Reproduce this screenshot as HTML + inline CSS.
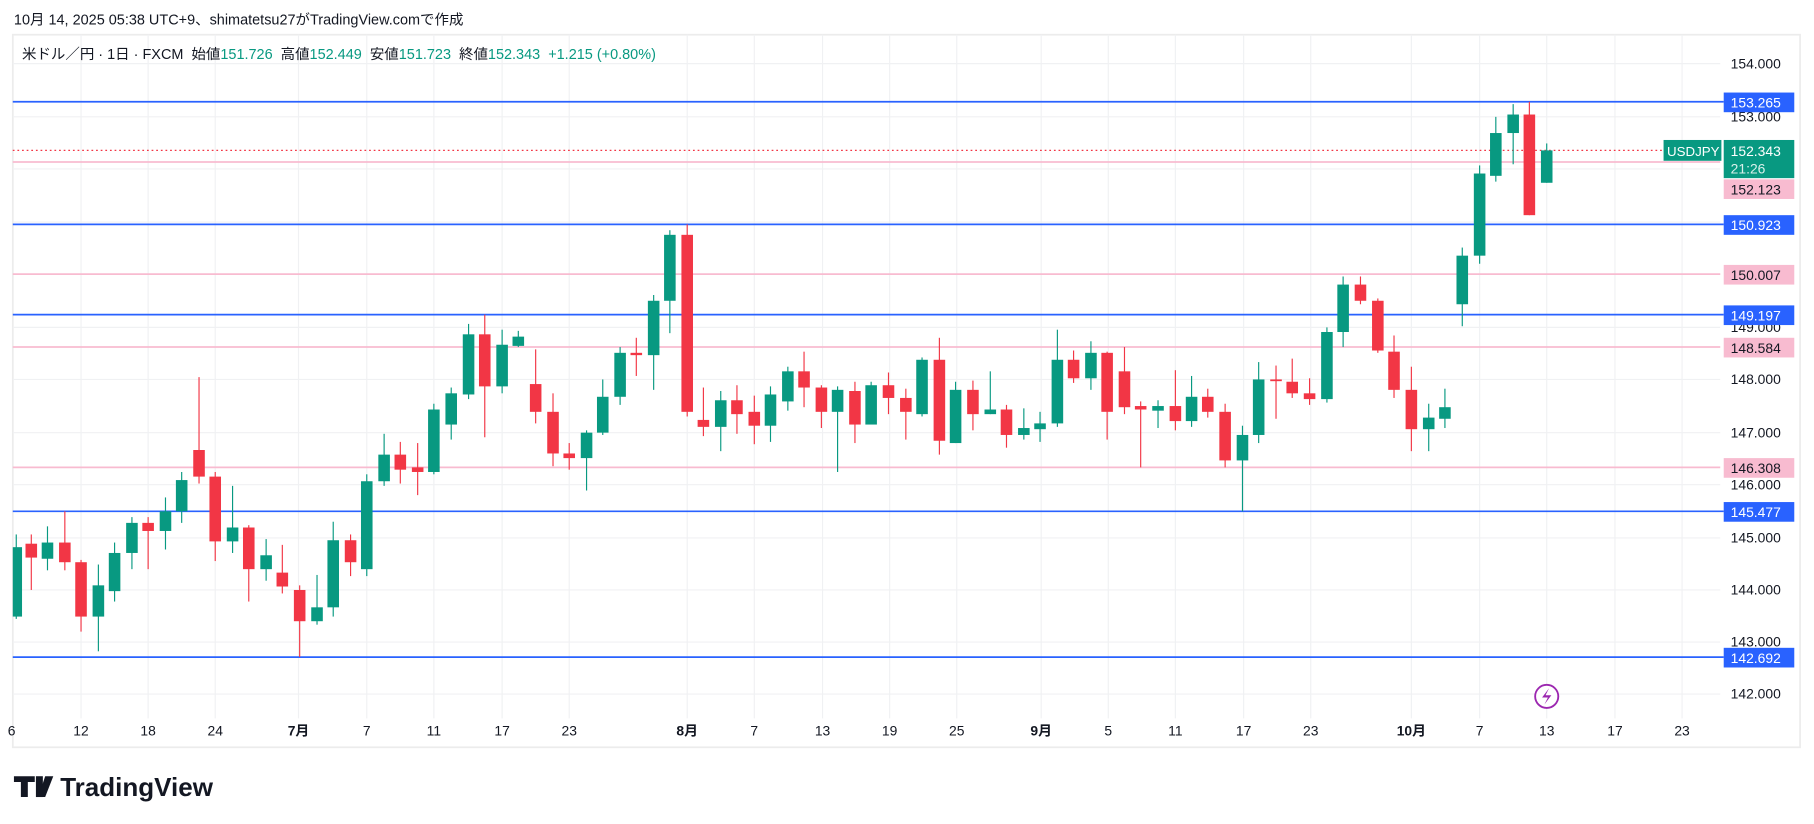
<!DOCTYPE html>
<html><head><meta charset="utf-8"><style>
html,body{margin:0;padding:0;background:#fff;width:1814px;height:824px;overflow:hidden}
svg{display:block}
text{font-family:"Liberation Sans","Noto Sans CJK JP",sans-serif}
</style></head><body>
<svg id="s" width="1814" height="824" viewBox="0 0 1568 712.3" xmlns="http://www.w3.org/2000/svg">
<rect x="0" y="0" width="1568" height="712.3" fill="#fff"/>
<text x="12" y="21" font-size="12.5" fill="#131722">10月 14, 2025 05:38 UTC+9、shimatetsu27がTradingView.comで作成</text>
<rect x="11" y="30" width="1545" height="616" fill="none" stroke="#ececec" stroke-width="1.5"/>
<g id="grid"></g>
<g id="hl"></g>
<g id="candles"></g>
<text x="19" y="51" font-size="12.5" fill="#131722">米ドル／円 · 1日 · FXCM &#160;始値<tspan fill="#089981">151.726</tspan> &#160;高値<tspan fill="#089981">152.449</tspan> &#160;安値<tspan fill="#089981">151.723</tspan> &#160;終値<tspan fill="#089981">152.343 &#160;+1.215 (+0.80%)</tspan></text>
<g font-size="12" fill="#131722">
<text x="1496" y="59">154.000</text>
<text x="1496" y="105">153.000</text>
<text x="1496" y="287">149.000</text>
<text x="1496" y="332">148.000</text>
<text x="1496" y="378">147.000</text>
<text x="1496" y="423">146.000</text>
<text x="1496" y="469">145.000</text>
<text x="1496" y="514">144.000</text>
<text x="1496" y="559">143.000</text>
<text x="1496" y="604">142.000</text>
</g>
<g font-size="12" fill="#fff">
<rect x="1490" y="80" width="61" height="17" fill="#2962ff"/><text x="1496" y="93">153.265</text>
<rect x="1490" y="186" width="61" height="17" fill="#2962ff"/><text x="1496" y="199">150.923</text>
<rect x="1490" y="264" width="61" height="17" fill="#2962ff"/><text x="1496" y="277">149.197</text>
<rect x="1490" y="434" width="61" height="17" fill="#2962ff"/><text x="1496" y="447">145.477</text>
<rect x="1490" y="560" width="61" height="17" fill="#2962ff"/><text x="1496" y="573">142.692</text>
</g>
<g font-size="12" fill="#131722">
<rect x="1490" y="155" width="61" height="17" fill="#f8bbd0"/><text x="1496" y="168">152.123</text>
<rect x="1490" y="229" width="61" height="17" fill="#f8bbd0"/><text x="1496" y="242">150.007</text>
<rect x="1490" y="292" width="61" height="17" fill="#f8bbd0"/><text x="1496" y="305">148.584</text>
<rect x="1490" y="396" width="61" height="17" fill="#f8bbd0"/><text x="1496" y="409">146.308</text>
</g>
<rect x="1438" y="121" width="50" height="18" fill="#089981"/><text x="1441" y="135" font-size="11.5" fill="#fff">USDJPY</text>
<rect x="1490" y="121" width="61" height="33" fill="#089981"/>
<text x="1496" y="135" font-size="12" fill="#fff">152.343</text>
<text x="1496" y="150" font-size="12" fill="#d8f0ea">21:26</text>
<circle cx="1337" cy="602" r="10" fill="#fff" stroke="#9c27b0" stroke-width="1.6"/>
<path d="M1339 595 L1333 603 L1338 603 L1335 609 L1341 601 L1336 601 Z" fill="#9c27b0"/>
<g font-size="12" fill="#131722" text-anchor="middle">
<text x="10" y="636">6</text><text x="70" y="636">12</text><text x="128" y="636">18</text><text x="186" y="636">24</text>
<text x="258" y="636" font-weight="bold">7月</text><text x="317" y="636">7</text><text x="375" y="636">11</text><text x="434" y="636">17</text><text x="492" y="636">23</text>
<text x="594" y="636" font-weight="bold">8月</text><text x="652" y="636">7</text><text x="711" y="636">13</text><text x="769" y="636">19</text><text x="827" y="636">25</text>
<text x="900" y="636" font-weight="bold">9月</text><text x="958" y="636">5</text><text x="1016" y="636">11</text><text x="1075" y="636">17</text><text x="1133" y="636">23</text>
<text x="1220" y="636" font-weight="bold">10月</text><text x="1279" y="636">7</text><text x="1337" y="636">13</text><text x="1396" y="636">17</text><text x="1454" y="636">23</text>
</g>
<g>
<path d="M12 671 H30 V676 H24 V689 H18 V676 H12 Z" fill="#131722"/>
<path d="M31 671 H37 V689 H31 Z" fill="#131722"/>
<path d="M39 671 H46 L39 689 H33 Z" fill="#131722"/>
<text x="52" y="688" font-size="22.5" font-weight="bold" fill="#131722">TradingView</text>
</g>
</svg>
<script>
var NS="http://www.w3.org/2000/svg";
function el(p,t,a){var e=document.createElementNS(NS,t);for(var k in a)e.setAttribute(k,a[k]);p.appendChild(e);return e;}
var g=document.getElementById("grid");
[55,101,146,192,237,283,328,374,419,465,510,555,600].forEach(function(y){el(g,"line",{x1:11,x2:1487,y1:y,y2:y,stroke:"#f0f1f3","stroke-width":1});});
[70,128,186,258,317,375,434,492,594,652,711,769,827,900,958,1016,1075,1133,1220,1279,1337,1396,1454].forEach(function(x){el(g,"line",{x1:x,x2:x,y1:30,y2:621,stroke:"#f0f1f3","stroke-width":1});});
var h=document.getElementById("hl");
[140,237,300,404].forEach(function(y){el(h,"line",{x1:11,x2:1487,y1:y,y2:y,stroke:"#f8bbd0","stroke-width":1.5});});
[88,194,272,442,568].forEach(function(y){el(h,"line",{x1:11,x2:1490,y1:y,y2:y,stroke:"#2962ff","stroke-width":1.5});});
el(h,"line",{x1:11,x2:1438,y1:130,y2:130,stroke:"#f23645","stroke-width":1,"stroke-dasharray":"1.5 2.5"});
var C=[[14,533,473,462,535],[27,470,482,462,510],[41,483,469,455,493],[56,469,486,442,493],[70,486,533,484,546],[85,533,506,488,563],[99,511,478,469,520],[114,478,452,447,492],[128,452,459,447,492],[143,459,442,430,475],[157,442,415,408,452],[172,389,412,326,418],[186,412,468,408,485],[201,468,456,420,478],[215,456,492,454,520],[230,492,480,466,502],[244,495,507,471,513],[259,510,537,506,568],[274,537,525,497,540],[288,525,467,451,533],[303,467,486,462,498],[317,492,416,410,498],[332,416,393,375,420],[346,393,406,382,418],[361,404,408,383,428],[375,408,354,349,410],[390,367,340,335,380],[405,341,289,280,345],[419,289,334,272,378],[434,334,298,285,340],[448,299,291,286,300],[463,332,356,302,366],[478,356,392,340,403],[492,392,396,383,406],[507,396,374,372,424],[521,374,343,328,376],[536,343,305,300,350],[550,305,307,292,325],[565,307,260,255,337],[579,260,203,199,288],[594,203,356,194,360],[608,363,369,335,377],[623,369,346,338,390],[637,346,358,333,375],[652,356,368,342,384],[666,368,341,334,382],[681,347,321,317,355],[695,321,335,304,352],[710,335,356,333,370],[724,356,337,334,408],[739,338,367,330,383],[753,367,333,330,366],[768,333,344,322,358],[783,344,356,336,380],[797,358,311,309,360],[812,311,381,292,393],[826,383,337,330,383],[841,337,358,329,372],[856,358,354,321,358],[870,354,376,350,387],[885,376,370,353,380],[899,371,366,356,382],[914,366,311,285,369],[928,311,327,303,331],[943,327,305,295,337],[957,305,356,304,380],[972,321,352,300,358],[986,351,354,347,404],[1001,355,351,346,370],[1016,351,364,320,372],[1030,364,343,325,369],[1044,343,356,336,361],[1059,356,398,349,404],[1074,398,376,368,442],[1088,376,328,313,383],[1103,328,329,316,362],[1117,330,340,310,344],[1132,340,345,327,350],[1147,345,287,283,348],[1161,287,246,239,300],[1176,246,260,239,263],[1191,260,303,258,305],[1205,304,337,290,344],[1220,337,371,317,390],[1235,371,361,349,390],[1249,362,352,336,370],[1264,263,221,214,282],[1279,221,150,143,228],[1293,152,115,101,157],[1308,115,99,90,142],[1322,99,186,88,186],[1337,158,130,124,158]];
var cg=document.getElementById("candles");
C.forEach(function(c){var up=c[2]<c[1];var col=up?"#089981":"#f23645";
el(cg,"line",{x1:c[0],x2:c[0],y1:c[3],y2:c[4],stroke:col,"stroke-width":1});
var t=Math.min(c[1],c[2]),b=Math.max(c[1],c[2]);if(b-t<1.5)b=t+1.5;
var x=c[0]-5;if(x<11)x=11;
el(cg,"rect",{x:x,y:t,width:c[0]+5-x,height:b-t,fill:col});});
</script>
</body></html>
